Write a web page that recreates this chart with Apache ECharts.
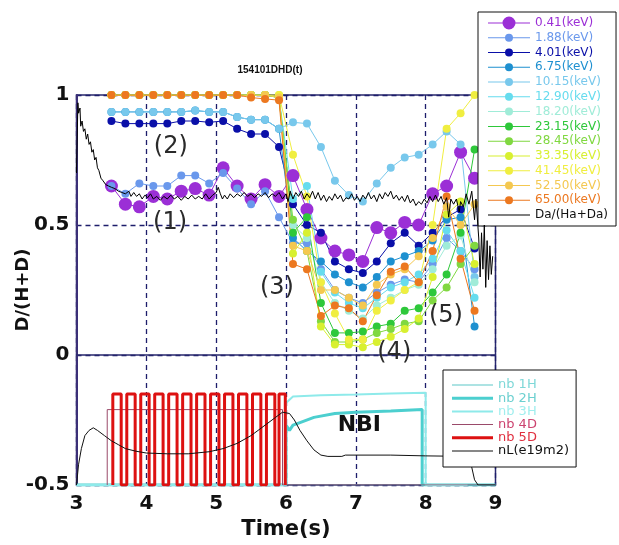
<!DOCTYPE html>
<html>
<head>
<meta charset="utf-8">
<script src="https://cdn.jsdelivr.net/npm/echarts@6/dist/echarts.min.js"></script>
<style>html,body{margin:0;padding:0;background:#fff}#chart{width:619px;height:545px}</style>
</head>
<body>
<div id="chart"></div>
<script>
// sample times of the energy-resolved D/(H+D) points (s)
const times = [3.5, 3.7, 3.9, 4.1, 4.3, 4.5, 4.7, 4.9, 5.1, 5.3, 5.5, 5.7, 5.9,
  6.1, 6.3, 6.5, 6.7, 6.9, 7.1, 7.3, 7.5, 7.7, 7.9, 8.1, 8.3, 8.5, 8.7];

const energyNames = ['0.41(keV)', '1.88(keV)', '4.01(keV)', '6.75(keV)', '10.15(keV)', '12.90(keV)',
  '18.20(keV)', '23.15(keV)', '28.45(keV)', '33.35(keV)', '41.45(keV)', '52.50(keV)', '65.00(keV)'];
const energyColors = ['#9b2fd6', '#6a98ec', '#0a0fa8', '#1e90d0', '#78c8ec', '#66dcee',
  '#a0ecd8', '#2ec83a', '#80d840', '#d8f030', '#f0ee40', '#f4c850', '#ec7820'];
const markerSizes = [13, 8, 8, 8, 8, 8, 8, 8, 8, 8, 8, 8, 8];

const d041 = [0.65, 0.58, 0.57, 0.61, 0.60, 0.63, 0.64, 0.615, 0.72, 0.65, 0.60, 0.655, 0.61,
  0.69, 0.56, 0.45, 0.40, 0.385, 0.36, 0.49, 0.47, 0.51, 0.50, 0.62, 0.65, 0.78, 0.68];
const d188 = [0.65, 0.62, 0.66, 0.65, 0.65, 0.69, 0.69, 0.66, 0.70, 0.64, 0.58, 0.63, 0.53,
  0.43, 0.43, 0.33, 0.25, 0.22, 0.20, 0.24, 0.27, 0.29, 0.28, 0.35, 0.45, 0.40, 0.33];
const d401 = [0.90, 0.89, 0.89, 0.89, 0.89, 0.90, 0.90, 0.895, 0.90, 0.87, 0.85, 0.85, 0.80,
  0.58, 0.50, 0.47, 0.36, 0.33, 0.315, 0.36, 0.43, 0.47, 0.42, 0.47, 0.53, 0.56, 0.41];
const d675 = [0.935, 0.935, 0.935, 0.935, 0.935, 0.935, 0.94, 0.935, 0.935, 0.915, 0.905, 0.905, 0.87,
  0.45, 0.40, 0.36, 0.31, 0.28, 0.26, 0.30, 0.36, 0.38, 0.40, 0.44, 0.52, 0.53, 0.11];
const d1015 = [0.935, 0.935, 0.935, 0.935, 0.935, 0.935, 0.94, 0.935, 0.935, 0.915, 0.905, 0.905, 0.87,
  0.895, 0.89, 0.80, 0.67, 0.615, 0.59, 0.66, 0.72, 0.76, 0.77, 0.81, 0.86, 0.81, 0.30];
const d1290 = [1.0, 1.0, 1.0, 1.0, 1.0, 1.0, 1.0, 1.0, 1.0, 1.0, 1.0, 1.0, 0.99,
  0.60, 0.65, 0.32, 0.24, 0.20, 0.18, 0.22, 0.26, 0.28, 0.31, 0.37, 0.48, 0.40, 0.22];
const d1820 = [1.0, 1.0, 1.0, 1.0, 1.0, 1.0, 1.0, 1.0, 1.0, 1.0, 1.0, 1.0, 0.99,
  0.50, 0.45, 0.28, 0.20, 0.17, 0.14, 0.19, 0.22, 0.25, 0.27, 0.33, 0.42, 0.46, 0.28];
const d2315 = [1.0, 1.0, 1.0, 1.0, 1.0, 1.0, 1.0, 1.0, 1.0, 1.0, 1.0, 1.0, 0.99,
  0.47, 0.53, 0.20, 0.085, 0.085, 0.09, 0.11, 0.12, 0.17, 0.18, 0.24, 0.31, 0.47, 0.79];
const d2845 = [1.0, 1.0, 1.0, 1.0, 1.0, 1.0, 1.0, 1.0, 1.0, 1.0, 1.0, 1.0, 0.99,
  0.52, 0.40, 0.13, 0.05, 0.05, 0.06, 0.085, 0.10, 0.12, 0.13, 0.21, 0.26, 0.35, 0.42];
const d3335 = [1.0, 1.0, 1.0, 1.0, 1.0, 1.0, 1.0, 1.0, 1.0, 1.0, 1.0, 1.0, 1.0,
  0.39, 0.47, 0.11, 0.04, 0.04, 0.03, 0.05, 0.07, 0.10, 0.14, 0.30, 0.54, 0.59, 0.35];
const d4145 = [1.0, 1.0, 1.0, 1.0, 1.0, 1.0, 1.0, 1.0, 1.0, 1.0, 1.0, 1.0, 1.0,
  0.77, 0.61, 0.28, 0.16, 0.06, 0.06, 0.17, 0.21, 0.25, 0.28, 0.50, 0.87, 0.93, 1.0];
const d5250 = [1.0, 1.0, 1.0, 1.0, 1.0, 1.0, 1.0, 1.0, 1.0, 1.0, 1.0, 1.0, 0.99,
  0.42, 0.40, 0.25, 0.25, 0.22, 0.19, 0.27, 0.31, 0.33, 0.38, 0.45, 0.57, 0.50, 0.58];
const d6500 = [1.0, 1.0, 1.0, 1.0, 1.0, 1.0, 1.0, 1.0, 1.0, 1.0, 0.99, 0.985, 0.98,
  0.35, 0.33, 0.15, 0.19, 0.18, 0.13, 0.23, 0.32, 0.34, 0.28, 0.40, 0.61, 0.37, 0.17];
const energyValues = [d041, d188, d401, d675, d1015, d1290, d1820, d2315, d2845, d3335, d4145, d5250, d6500];

// Da/(Ha+Da) spectroscopic ratio
const daRatio = [[3.0, 0.70], [3.02, 0.97], [3.03, 0.93], [3.05, 0.95], [3.06, 0.88], [3.08, 0.90],
  [3.10, 0.86], [3.12, 0.87], [3.14, 0.83], [3.16, 0.85], [3.18, 0.81], [3.20, 0.82], [3.22, 0.78],
  [3.24, 0.79], [3.26, 0.75], [3.28, 0.76], [3.30, 0.72], [3.32, 0.71], [3.35, 0.68], [3.38, 0.67],
  [3.42, 0.655], [3.46, 0.65], [3.50, 0.645], [3.55, 0.64], [3.60, 0.63], [3.65, 0.625], [3.70, 0.62],
  [3.75, 0.63], [3.78, 0.61], [3.82, 0.625], [3.86, 0.61], [3.90, 0.62], [3.94, 0.60], [3.98, 0.615],
  [4.02, 0.605], [4.06, 0.62], [4.10, 0.60], [4.15, 0.61], [4.20, 0.595], [4.25, 0.61], [4.30, 0.60],
  [4.35, 0.615], [4.40, 0.60], [4.45, 0.61], [4.50, 0.595], [4.55, 0.61], [4.60, 0.60], [4.65, 0.615],
  [4.70, 0.60], [4.75, 0.61], [4.80, 0.60], [4.85, 0.62], [4.90, 0.60], [4.95, 0.615], [5.00, 0.625],
  [5.03, 0.645], [5.06, 0.62], [5.09, 0.60], [5.12, 0.615], [5.16, 0.60], [5.20, 0.62], [5.25, 0.605],
  [5.30, 0.62], [5.35, 0.61], [5.40, 0.625], [5.45, 0.61], [5.50, 0.62], [5.55, 0.605], [5.60, 0.62],
  [5.65, 0.61], [5.70, 0.625], [5.75, 0.605], [5.80, 0.62], [5.85, 0.61], [5.90, 0.625], [5.95, 0.60],
  [6.00, 0.62], [6.03, 0.59], [6.06, 0.63], [6.10, 0.60], [6.14, 0.625], [6.18, 0.61], [6.22, 0.63],
  [6.26, 0.60], [6.30, 0.62], [6.34, 0.605], [6.38, 0.63], [6.42, 0.60], [6.46, 0.625], [6.50, 0.595],
  [6.54, 0.615], [6.58, 0.59], [6.62, 0.61], [6.66, 0.595], [6.70, 0.62], [6.74, 0.60], [6.78, 0.615],
  [6.82, 0.59], [6.86, 0.605], [6.90, 0.60], [6.94, 0.62], [6.98, 0.595], [7.02, 0.61], [7.06, 0.59],
  [7.10, 0.615], [7.14, 0.60], [7.18, 0.625], [7.22, 0.60], [7.26, 0.615], [7.30, 0.59], [7.34, 0.62],
  [7.38, 0.60], [7.42, 0.625], [7.46, 0.61], [7.50, 0.63], [7.54, 0.60], [7.58, 0.615], [7.62, 0.595],
  [7.66, 0.61], [7.70, 0.59], [7.74, 0.615], [7.78, 0.585], [7.82, 0.60], [7.86, 0.575], [7.90, 0.59],
  [7.94, 0.58], [7.98, 0.60], [8.02, 0.585], [8.06, 0.61], [8.10, 0.59], [8.14, 0.615], [8.18, 0.59],
  [8.22, 0.61], [8.26, 0.58], [8.30, 0.605], [8.33, 0.53], [8.36, 0.60], [8.40, 0.58], [8.44, 0.60],
  [8.48, 0.55], [8.50, 0.59], [8.54, 0.57], [8.58, 0.62], [8.62, 0.58], [8.66, 0.63], [8.70, 0.52],
  [8.72, 0.60], [8.76, 0.45], [8.78, 0.30], [8.80, 0.47], [8.82, 0.33], [8.84, 0.50], [8.86, 0.26],
  [8.88, 0.44], [8.90, 0.29], [8.92, 0.42], [8.94, 0.31], [8.96, 0.38]];

// NBI traces, drawn in the lower part of the same axis
const nb1H = [[3.0, -0.5], [9.0, -0.5]];
const nb2H = [[3.0, -0.5], [6.0, -0.5], [6.0, -0.27], [6.05, -0.29], [6.1, -0.27], [6.2, -0.26],
  [6.4, -0.24], [6.7, -0.225], [7.0, -0.22], [7.5, -0.215], [7.95, -0.21], [7.95, -0.5], [9.0, -0.5]];
const nb3H = [[3.0, -0.5], [6.0, -0.5], [6.0, -0.185], [6.1, -0.16], [6.5, -0.155], [7.0, -0.152],
  [7.5, -0.148], [8.0, -0.145], [8.0, -0.5], [8.6, -0.5]];
const nb4D = [[3.44, -0.5], [3.44, -0.21], [5.95, -0.21], [5.95, -0.5], [9.0, -0.5]];
const nb5DOn = [3.52, 3.72, 3.92, 4.12, 4.32, 4.52, 4.72, 4.92, 5.12, 5.32, 5.52, 5.72, 5.90];
const nb5DOff = [3.64, 3.84, 4.04, 4.24, 4.44, 4.64, 4.84, 5.04, 5.24, 5.44, 5.64, 5.84, 5.99];
const nb5DLevel = -0.15;
const nL = [[3.0, -0.5], [3.03, -0.42], [3.07, -0.36], [3.12, -0.31], [3.18, -0.29], [3.24, -0.28],
  [3.3, -0.29], [3.4, -0.31], [3.5, -0.33], [3.6, -0.345], [3.7, -0.36], [3.85, -0.37], [4.0, -0.377],
  [4.3, -0.38], [4.6, -0.38], [4.9, -0.372], [5.1, -0.36], [5.3, -0.34], [5.5, -0.31], [5.7, -0.27],
  [5.85, -0.24], [5.95, -0.22], [6.05, -0.225], [6.12, -0.25], [6.2, -0.29], [6.3, -0.33], [6.4, -0.365],
  [6.5, -0.385], [6.6, -0.39], [6.8, -0.39], [6.85, -0.385], [7.5, -0.385], [8.0, -0.388], [8.6, -0.39],
  [8.65, -0.42], [8.7, -0.48], [8.75, -0.5], [9.0, -0.5]];

const nbiNames = ['nb 1H', 'nb 2H', 'nb 3H', 'nb 4D', 'nb 5D', 'nL(e19m2)'];
const nbiColors = ['#5cc8c8', '#4ccfcf', '#8eeaea', '#9a4a6a', '#dd1111', '#111111'];
const nbiWidths = [1, 3, 2, 1, 3, 1];
const nbiTextColors = ['#7fd8d8', '#6cd0d0', '#a0eeee', '#cc4470', '#e03040', '#111111'];

const annotations = [['(1)', 4.34, 0.51], ['(2)', 4.35, 0.80], ['(3)', 5.87, 0.26],
  ['(4)', 7.55, 0.01], ['(5)', 8.29, 0.15]];

function pulses(on, off, level) {
  const pts = [];
  on.forEach((t, i) => { pts.push([t, -0.5], [t, level], [off[i], level], [off[i], -0.5]); });
  return pts;
}

// legend swatch: line with a marker, fixed 42x14 box
function markIcon(r) {
  const c = (21 - r).toFixed(2), d = (2 * r).toFixed(2);
  return 'path://M0,0h0.01v0.01h-0.01z M41.99,13.99h0.01v0.01h-0.01z M0,6.5h42v1h-42z ' +
    'M' + c + ',7a' + r + ',' + r + ' 0 1,1 ' + d + ',0a' + r + ',' + r + ' 0 1,1 -' + d + ',0z';
}
function lineIcon(w, h, t) {
  const y = (h - t) / 2;
  return 'path://M0,0h0.01v0.01h-0.01z M' + (w - 0.01) + ',' + (h - 0.01) + 'h0.01v0.01h-0.01z M0,' + y +
    'h' + w + 'v' + t + 'h-' + w + 'z';
}

const chart = echarts.init(document.getElementById('chart'), null, {renderer: 'canvas'});

const series = energyNames.map((name, i) => ({
  name, type: 'line', z: 3,
  data: times.map((t, k) => [t, energyValues[i][k]]),
  symbol: 'circle', symbolSize: markerSizes[i],
  lineStyle: {color: energyColors[i], width: 1},
  itemStyle: {color: energyColors[i], borderWidth: 0}
}));
series.push({
  name: 'Da/(Ha+Da)', type: 'line', z: 4, data: daRatio, symbol: 'none',
  lineStyle: {color: '#000', width: 1}, itemStyle: {color: '#000'}
});
const nbiData = [nb1H, nb2H, nb3H, nb4D, pulses(nb5DOn, nb5DOff, nb5DLevel), nL];
nbiNames.forEach((name, i) => series.push({
  name, type: 'line', z: 2, data: nbiData[i], symbol: 'none',
  lineStyle: {color: nbiColors[i], width: nbiWidths[i]}, itemStyle: {color: nbiColors[i]}
}));

const legendTop = energyNames.map((n, i) => ({
  name: n, icon: markIcon(markerSizes[i] / 2), textStyle: {color: energyColors[i]}
}));
legendTop.push({name: 'Da/(Ha+Da)', icon: lineIcon(42, 14, 1), textStyle: {color: '#111'}});
const legendBottom = nbiNames.map((n, i) => ({
  name: n, icon: lineIcon(41, 13, nbiWidths[i]), textStyle: {color: nbiTextColors[i]}
}));

const axisFont = {fontFamily: 'DejaVu Sans', fontWeight: 'bold', fontSize: 20, color: '#111'};
const gridLine = {show: true, lineStyle: {type: [5, 4], color: '#1d1d6b', width: 1.3}};

chart.setOption({
  animation: false,
  backgroundColor: '#fff',
  grid: {left: 76.5, right: 123.5, top: 95, bottom: 60, show: true, borderColor: '#28286e',
    borderWidth: 1.5, containLabel: false, outerBoundsMode: 'none'},
  xAxis: {
    type: 'value', min: 3, max: 9, interval: 1,
    name: 'Time(s)', nameLocation: 'middle', nameGap: 34, nameMoveOverlap: false,
    nameTextStyle: Object.assign({}, axisFont, {fontSize: 21}),
    axisLine: {show: true, lineStyle: {color: '#28286e', width: 1.5}},
    axisTick: {show: false},
    axisLabel: Object.assign({margin: 9}, axisFont),
    splitLine: gridLine
  },
  yAxis: {
    type: 'value', min: -0.5, max: 1, interval: 0.5,
    name: 'D/(H+D)', nameLocation: 'middle', nameGap: 44, nameMoveOverlap: false,
    nameTextStyle: Object.assign({}, axisFont, {fontSize: 18}),
    axisLine: {show: true, lineStyle: {color: '#3b2f77', width: 2}},
    axisTick: {show: false},
    axisLabel: Object.assign({margin: 7}, axisFont),
    splitLine: gridLine
  },
  legend: [{
    data: legendTop, orient: 'vertical', left: 478, top: 12,
    itemWidth: 42, itemHeight: 14, itemGap: 0.77, padding: [4, 8, 4, 10],
    backgroundColor: '#fff', borderColor: '#111', borderWidth: 1, borderRadius: 0,
    textStyle: {fontFamily: 'DejaVu Sans', fontSize: 12, lineHeight: 12},
    selectedMode: false
  }, {
    data: legendBottom, orient: 'vertical', left: 443, top: 370,
    itemWidth: 41, itemHeight: 13, itemGap: 0.2, padding: [8.5, 7, 9.5, 9],
    backgroundColor: '#fff', borderColor: '#111', borderWidth: 1, borderRadius: 0,
    textStyle: {fontFamily: 'DejaVu Sans', fontSize: 13, lineHeight: 13},
    selectedMode: false
  }],
  series
});

// text annotations placed in data coordinates
const graphic = annotations.map(([text, t, v]) => {
  const p = chart.convertToPixel({gridIndex: 0}, [t, v]);
  return {type: 'text', x: p[0], y: p[1], z: 10,
    style: {text, align: 'center', verticalAlign: 'middle', font: '24px "DejaVu Sans"', fill: '#2a2a2a'}};
});
const nbiPos = chart.convertToPixel({gridIndex: 0}, [7.05, -0.27]);
graphic.push({type: 'text', x: nbiPos[0], y: nbiPos[1], z: 10,
  style: {text: 'NBI', align: 'center', verticalAlign: 'middle', font: 'bold 22px "DejaVu Sans"', fill: '#111'}});
graphic.push({type: 'text', x: 270, y: 70, z: 10,
  style: {text: '154101DHD(t)', align: 'center', verticalAlign: 'middle',
    font: 'bold 10px "Liberation Sans", Arial, sans-serif', fill: '#111'}});
chart.setOption({graphic});
</script>
</body>
</html>
